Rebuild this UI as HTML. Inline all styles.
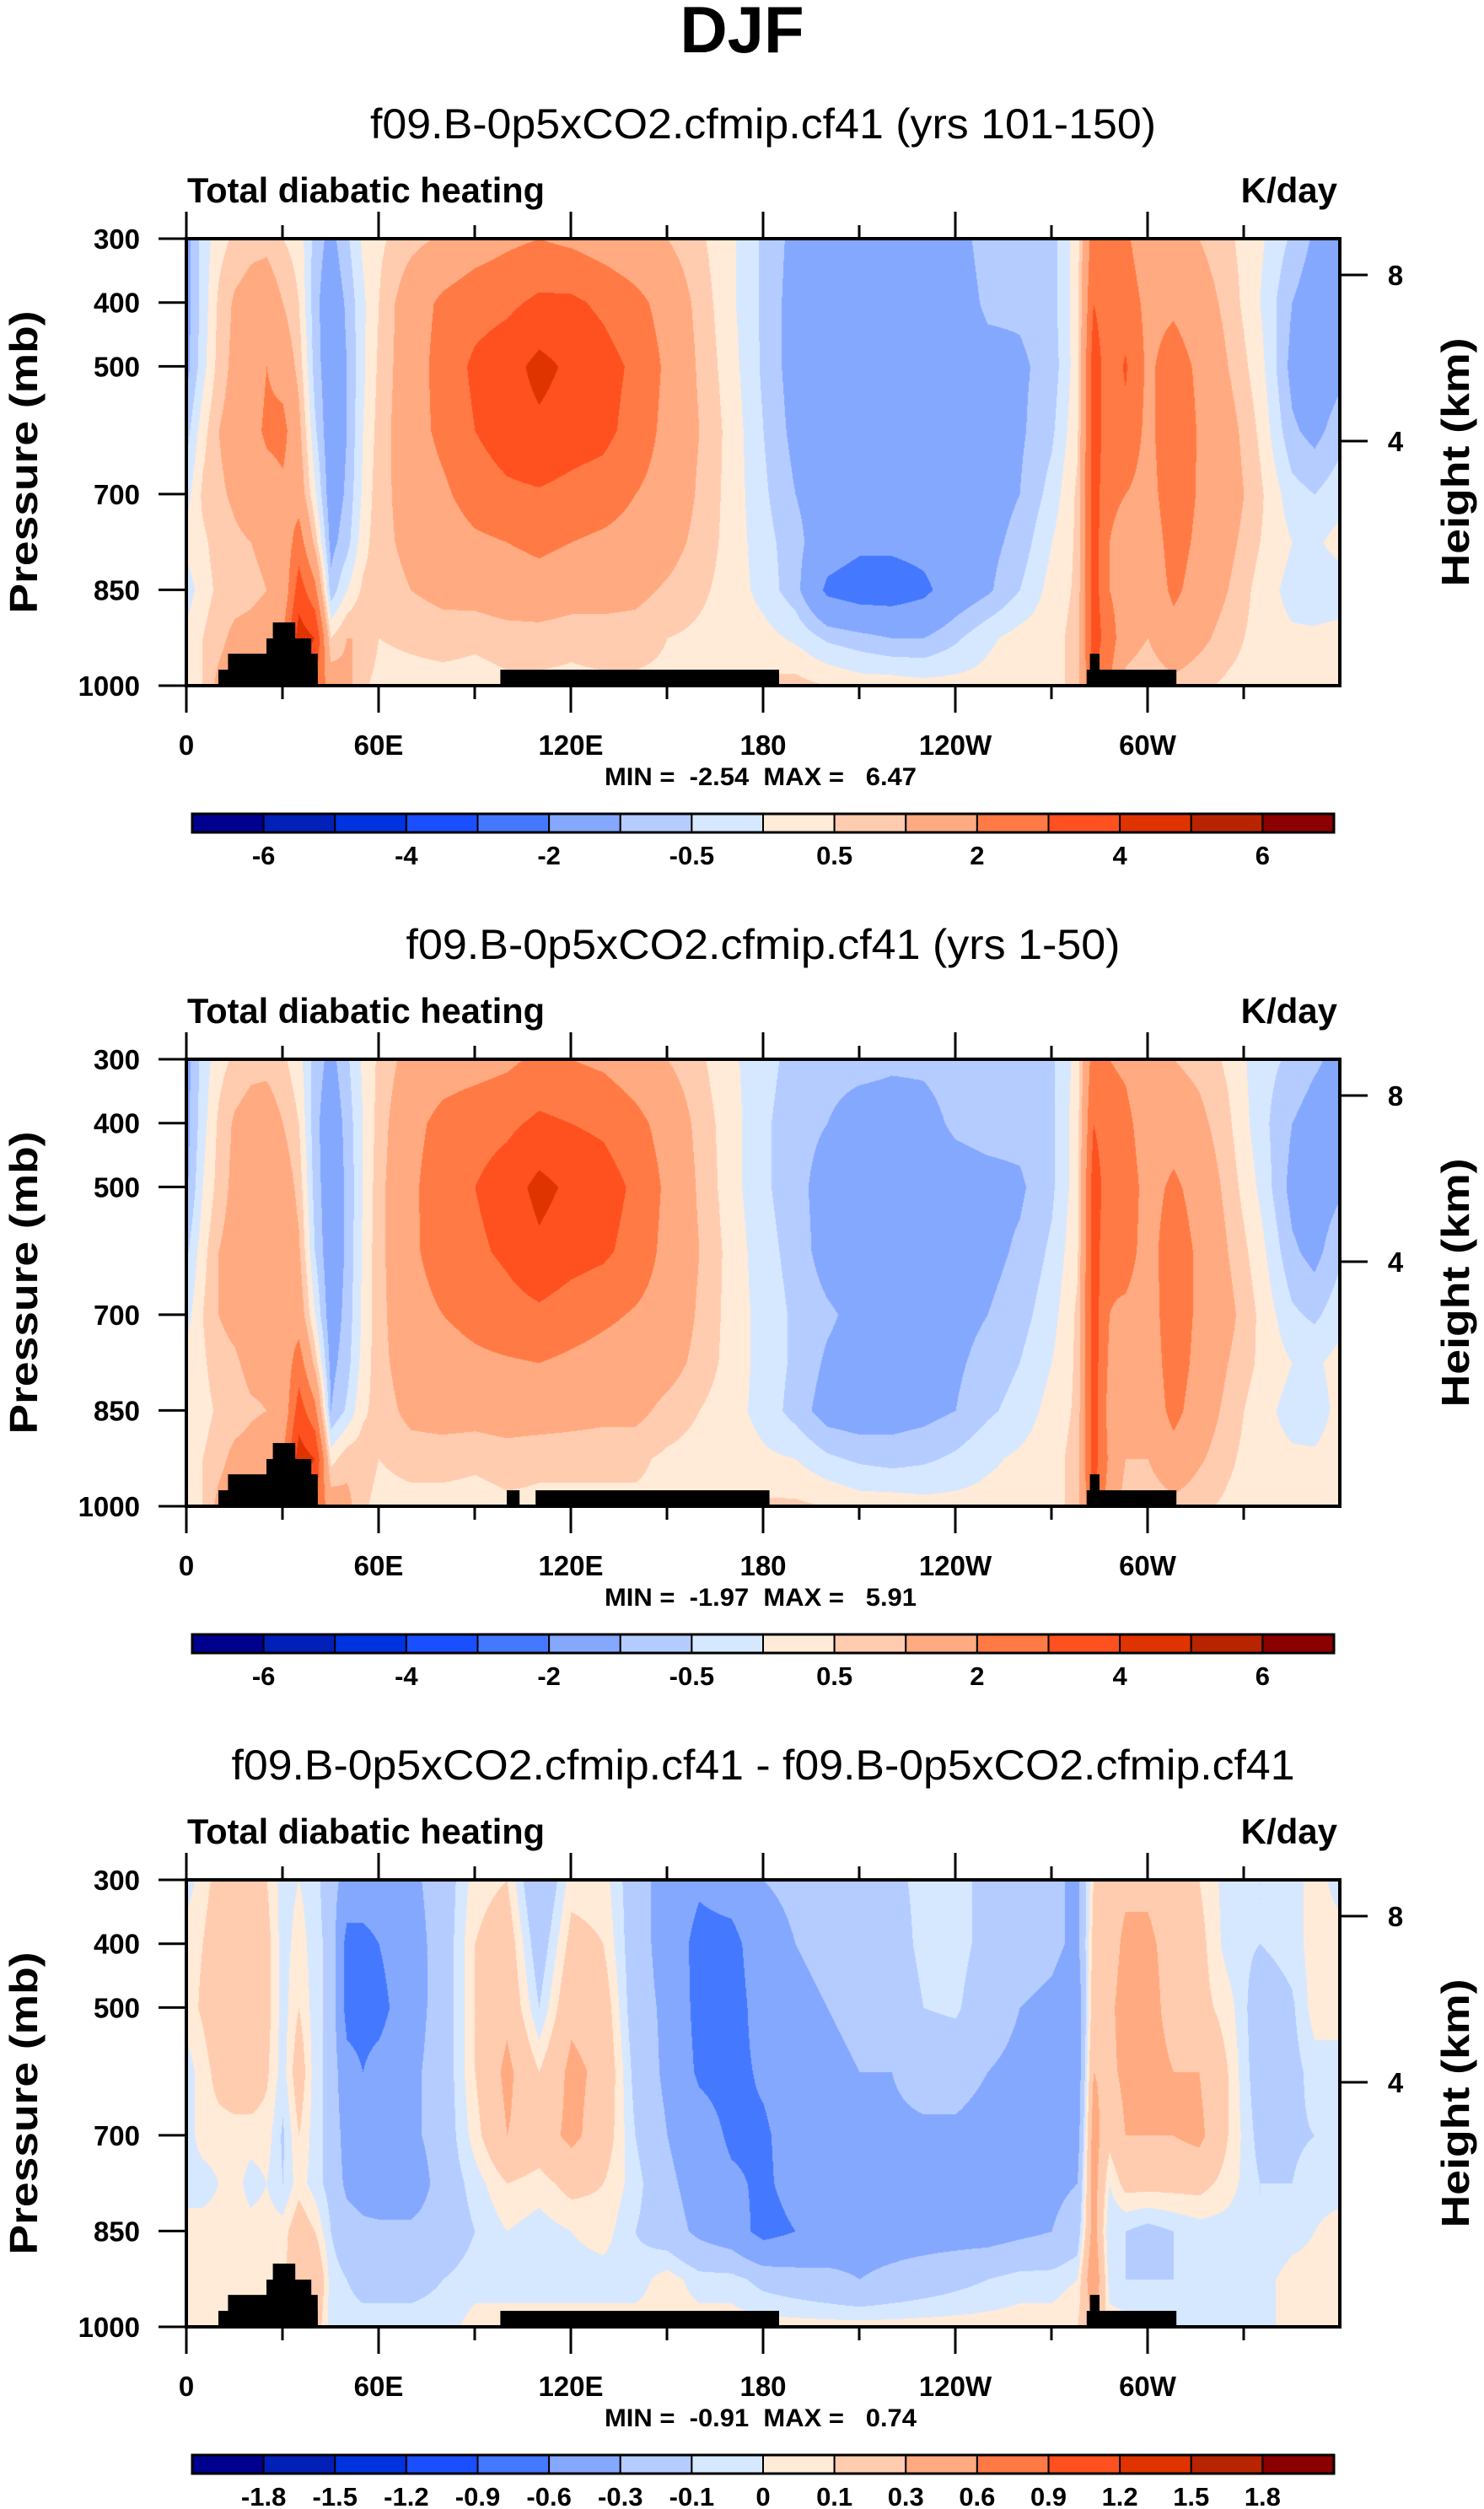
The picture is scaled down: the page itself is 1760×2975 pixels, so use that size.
<!DOCTYPE html>
<html><head><meta charset="utf-8">
<style>
html,body{margin:0;padding:0;background:#fff;}
body{width:1760px;height:2975px;position:relative;overflow:hidden;font-family:"Liberation Sans",Arial,sans-serif;}
canvas{position:absolute;}
#ov{position:absolute;left:0;top:0;}
</style></head>
<body>
<canvas id="c1" width="1368" height="530" style="left:221px;top:283px"></canvas>
<canvas id="c2" width="1368" height="530" style="left:221px;top:1256px"></canvas>
<canvas id="c3" width="1368" height="530" style="left:221px;top:2229px"></canvas>
<svg id="ov" width="1760" height="2975" xmlns="http://www.w3.org/2000/svg"></svg>
<script>
const lons=[0,5,10,15,20,25,30,35,40,45,50,55,60,70,80,90,100,110,120,130,140,150,160,170,180,190,200,210,220,230,240,250,260,270,278,283,288,293,300,308,316,325,335,345,352,360];
const pLevels=[300,400,500,600,700,775,850,925,1000];
const field1=[
[-1.2,-1.2,-1.2,-0.7,-0.2,0.2,-0.3,0.2,0.3],
[-0.3,-0.3,-0.2,0.3,0.6,0.4,0.3,0.5,0.5],
[0.3,0.6,0.7,1.0,0.9,0.7,0.6,0.8,1.2],
[0.6,1.1,1.2,1.3,1.1,0.9,0.7,1.2,1.5],
[0.8,1.3,1.4,1.6,1.3,1.0,0.8,1.3,1.5],
[0.8,1.5,2.0,2.2,1.5,1.2,1.0,1.5,1.5],
[0.5,1.0,1.6,2.3,1.8,1.3,1.2,2,2],
[0.3,0.5,0.8,1.2,1.5,2.5,3.5,4.5,4],
[-0.7,-0.8,-0.7,-0.4,0.1,0.8,2.3,4.0,3],
[-1.2,-1.5,-1.5,-1.5,-1.4,-1.2,-0.8,0.5,1.5],
[-0.6,-0.9,-1.0,-1.0,-0.9,-0.7,0.0,1.0,1.2],
[0.1,-0.1,-0.1,0.0,0.1,0.3,0.6,1.0,0.6],
[0.4,0.5,0.6,0.7,0.8,0.8,0.7,0.5,0.3],
[0.8,1.5,1.5,1.5,1.3,1.2,1.0,0.6,0.3],
[1.1,2.2,2.4,2.3,1.8,1.4,1.2,0.7,0.3],
[1.5,2.6,3.2,3.0,2.5,1.8,1.3,0.6,0.3],
[1.8,2.8,3.6,3.5,2.8,2.0,1.5,0.7,0.4],
[2.0,3.2,4.3,3.8,2.9,2.2,1.6,0.7,0.4],
[1.8,3.2,3.8,3.5,2.7,2.0,1.4,0.6,0.4],
[1.5,2.8,3.4,3.3,2.5,1.8,1.3,0.7,0.4],
[1.2,2.3,2.8,2.6,2.0,1.6,1.2,0.7,0.4],
[1.0,1.6,1.8,1.7,1.6,1.3,0.9,0.5,0.4],
[0.6,0.8,0.9,1.0,0.9,0.8,0.6,0.4,0.5],
[0.1,0.1,0.2,0.3,0.3,0.3,0.3,0.3,0.6],
[-0.6,-0.6,-0.6,-0.5,-0.4,-0.3,-0.2,0.2,0.6],
[-1.2,-1.3,-1.3,-1.2,-1.0,-0.8,-0.8,-0.1,0.7],
[-1.3,-1.4,-1.5,-1.5,-1.4,-1.5,-2.2,-0.6,0.5],
[-1.4,-1.5,-1.5,-1.5,-1.5,-1.8,-2.5,-0.8,0.3],
[-1.4,-1.5,-1.5,-1.5,-1.6,-1.8,-2.5,-1.0,0.3],
[-1.4,-1.5,-1.5,-1.5,-1.5,-1.7,-2.2,-1.0,0.2],
[-1.2,-1.3,-1.4,-1.5,-1.5,-1.5,-1.5,-0.6,0.2],
[-0.8,-0.9,-1.2,-1.3,-1.3,-1.2,-1.1,-0.1,0.2],
[-0.8,-0.9,-1.1,-1.1,-1.0,-0.8,-0.5,0.2,0.2],
[-0.7,-0.7,-0.8,-0.6,-0.3,0.0,0.2,0.3,0.3],
[0.3,0.3,0.3,0.4,0.6,0.6,0.6,0.7,0.7],
[2.5,3.0,3.5,3.5,3.5,3.5,3.5,3.5,3],
[2.0,2.5,2.5,2.5,2.2,2,2,2.5,2],
[2.2,2.6,3.1,2.8,2.0,1.6,1.5,1.3,0.8],
[1.3,1.7,1.8,1.7,1.6,1.4,1.3,1.0,0.6],
[1.2,1.8,2.5,2.8,2.6,2.4,2.2,1.6,0.8],
[1.0,1.4,1.8,1.9,1.9,1.8,1.6,1.2,0.6],
[0.6,0.8,1.0,1.3,1.4,1.2,1.0,0.7,0.4],
[0.1,0.0,0.2,0.4,0.6,0.5,0.3,0.3,0.3],
[-0.6,-1.0,-1.2,-0.9,-0.3,0.0,-0.2,0.1,0.2],
[-1.1,-1.4,-1.5,-1.2,-0.5,-0.1,-0.3,0.1,0.2],
[-1.2,-1.2,-1.2,-0.7,-0.2,0.2,-0.3,0.2,0.3]];
const field2=[
[-1.2,-1.2,-1.1,-0.6,-0.2,0.2,0.2,0.3,0.3],
[-0.3,-0.2,0.0,0.3,0.5,0.4,0.3,0.5,0.5],
[0.3,0.6,0.7,1.0,1.0,0.8,0.6,0.8,1.2],
[0.6,1.1,1.2,1.3,1.2,0.9,0.7,1.2,1.5],
[0.8,1.3,1.4,1.6,1.4,1.2,0.9,1.3,1.5],
[0.8,1.4,1.8,2.0,1.6,1.2,1.0,1.5,1.5],
[0.6,1.0,1.5,1.8,1.6,1.3,1.2,2,2],
[0.2,0.5,0.8,1.1,1.5,2.5,3.5,4.5,4],
[-0.7,-0.8,-0.7,-0.5,0.0,0.8,2.3,4.0,3],
[-1.2,-1.5,-1.5,-1.5,-1.4,-1.2,-1.0,0.3,1.5],
[-0.6,-0.8,-0.9,-0.9,-0.8,-0.7,-0.4,0.8,1.2],
[0.1,0.0,0.0,0.1,0.1,0.2,0.4,0.8,0.6],
[0.6,0.7,0.8,0.8,0.8,0.8,0.7,0.5,0.3],
[1.3,1.7,1.8,1.8,1.6,1.4,1.2,0.7,0.3],
[1.5,2.3,2.6,2.5,2.0,1.6,1.3,0.7,0.3],
[1.6,2.6,3.0,2.8,2.3,1.8,1.3,0.6,0.3],
[1.8,2.8,3.5,3.2,2.6,1.9,1.4,0.7,0.4],
[2.2,3.2,4.3,3.8,2.8,2.0,1.4,0.6,0.4],
[2.0,3.0,3.8,3.4,2.5,1.8,1.3,0.6,0.4],
[1.8,2.8,3.5,3.2,2.2,1.6,1.2,0.6,0.4],
[1.4,2.3,2.8,2.6,1.9,1.5,1.2,0.6,0.4],
[1.0,1.6,1.8,1.7,1.6,1.3,0.8,0.4,0.4],
[0.6,0.8,0.9,1.0,0.9,0.8,0.5,0.3,0.5],
[0.1,0.2,0.2,0.3,0.3,0.3,0.2,0.3,0.6],
[-0.3,-0.4,-0.4,-0.3,-0.2,-0.2,-0.2,0.1,0.6],
[-0.7,-0.8,-0.8,-0.7,-0.6,-0.6,-0.7,0.0,0.6],
[-0.8,-1.0,-1.3,-1.3,-0.9,-1.1,-1.3,-0.4,0.5],
[-0.8,-1.3,-1.4,-1.4,-1.2,-1.3,-1.4,-0.6,0.3],
[-0.9,-1.3,-1.4,-1.4,-1.3,-1.3,-1.3,-0.7,0.3],
[-0.9,-1.2,-1.4,-1.4,-1.3,-1.3,-1.2,-0.6,0.2],
[-0.8,-0.9,-1.3,-1.3,-1.2,-1.1,-1.0,-0.4,0.2],
[-0.7,-0.8,-1.2,-1.2,-1.0,-0.8,-0.6,-0.1,0.2],
[-0.7,-0.8,-1.1,-0.9,-0.7,-0.5,-0.3,0.1,0.2],
[-0.6,-0.6,-0.6,-0.4,-0.2,0.0,0.2,0.3,0.3],
[0.2,0.3,0.3,0.4,0.6,0.6,0.6,0.7,0.7],
[2.5,3.0,3.5,3.5,3.5,3.5,3.5,3.5,3],
[2.0,2.5,2.5,2.2,2.0,1.8,1.6,1.8,1.5],
[1.8,2.3,2.6,2.4,1.8,1.4,1.2,1.0,0.7],
[1.1,1.4,1.6,1.6,1.5,1.4,1.3,1.0,0.6],
[1.0,1.5,2.2,2.6,2.6,2.5,2.3,1.6,0.8],
[0.8,1.2,1.6,1.8,1.8,1.7,1.5,1.1,0.6],
[0.4,0.6,0.8,1.0,1.2,1.0,0.8,0.6,0.4],
[-0.3,-0.3,-0.1,0.2,0.4,0.4,0.2,0.2,0.3],
[-0.6,-1.0,-1.2,-0.9,-0.4,0.0,-0.2,0.1,0.2],
[-0.9,-1.3,-1.4,-1.2,-0.6,-0.1,-0.3,0.1,0.2],
[-1.2,-1.2,-1.1,-0.6,-0.2,0.2,0.2,0.3,0.3]];
const field3=[
[-0.05,0.05,0.05,-0.05,-0.05,-0.05,0.05,0.05,0.05],
[0.05,0.1,0.12,0.05,0.05,-0.05,0.05,0.05,0.05],
[0.15,0.2,0.2,0.15,0.05,0.0,0.05,0.05,0.05],
[0.15,0.25,0.25,0.2,0.05,0.05,0.05,0.05,0.05],
[0.15,0.25,0.25,0.2,0.05,-0.05,0.05,0.05,0.05],
[0.1,0.15,0.15,0.12,0.05,0.0,0.05,0.05,0.05],
[-0.05,-0.05,-0.05,-0.05,-0.12,-0.1,0.05,0.05,0.05],
[0.0,0.05,0.1,0.2,0.1,0.05,0.2,0.3,0.2],
[-0.05,-0.05,-0.05,-0.05,-0.05,-0.05,0.1,0.3,0.2],
[-0.2,-0.15,-0.15,-0.15,-0.15,-0.15,-0.1,-0.05,-0.05],
[-0.4,-0.7,-0.7,-0.5,-0.4,-0.35,-0.2,-0.1,-0.05],
[-0.4,-0.7,-0.7,-0.6,-0.45,-0.4,-0.25,-0.15,-0.05],
[-0.4,-0.6,-0.7,-0.5,-0.5,-0.45,-0.25,-0.15,-0.05],
[-0.35,-0.4,-0.4,-0.35,-0.35,-0.45,-0.25,-0.15,-0.05],
[-0.2,-0.2,-0.2,-0.2,-0.2,-0.2,-0.2,-0.1,-0.05],
[0.05,0.1,0.1,0.1,0.05,-0.05,-0.1,-0.05,0.05],
[0.1,0.2,0.25,0.35,0.3,0.1,0.0,-0.05,0.05],
[-0.3,-0.2,-0.1,0.1,0.2,0.05,-0.05,-0.05,0.05],
[0.05,0.15,0.25,0.35,0.35,0.15,0.0,-0.05,0.05],
[0.05,0.1,0.2,0.25,0.2,0.1,0.05,-0.05,0.05],
[-0.2,-0.2,-0.2,-0.15,-0.1,-0.05,-0.1,-0.05,0.05],
[-0.4,-0.4,-0.35,-0.35,-0.3,-0.25,-0.2,0.05,0.05],
[-0.55,-0.7,-0.7,-0.65,-0.45,-0.4,-0.35,-0.05,0.05],
[-0.45,-0.7,-0.75,-0.7,-0.65,-0.55,-0.45,-0.05,0.05],
[-0.3,-0.4,-0.45,-0.55,-0.65,-0.65,-0.7,-0.15,0.05],
[-0.25,-0.3,-0.35,-0.4,-0.45,-0.5,-0.6,-0.2,0.05],
[-0.2,-0.25,-0.3,-0.35,-0.4,-0.4,-0.45,-0.25,0.05],
[-0.2,-0.25,-0.25,-0.3,-0.35,-0.4,-0.4,-0.3,0.05],
[-0.15,-0.2,-0.25,-0.3,-0.35,-0.4,-0.4,-0.25,0.05],
[-0.05,-0.05,-0.1,-0.2,-0.35,-0.4,-0.4,-0.2,0.05],
[-0.05,-0.05,-0.08,-0.2,-0.35,-0.4,-0.4,-0.15,0.05],
[-0.15,-0.15,-0.2,-0.3,-0.4,-0.4,-0.4,-0.1,0.05],
[-0.2,-0.2,-0.3,-0.35,-0.4,-0.4,-0.35,-0.05,0.05],
[-0.25,-0.25,-0.35,-0.4,-0.4,-0.35,-0.3,-0.05,0.05],
[-0.35,-0.35,-0.45,-0.45,-0.4,-0.3,-0.2,0.0,0.1],
[0.1,0.15,0.2,0.3,0.4,0.4,0.4,0.5,0.3],
[0.2,0.2,0.25,0.25,0.15,0.0,-0.1,-0.05,0.05],
[0.25,0.35,0.4,0.35,0.3,0.15,-0.1,-0.1,0.05],
[0.25,0.35,0.4,0.4,0.3,0.15,-0.15,-0.1,-0.05],
[0.15,0.2,0.2,0.3,0.3,0.15,-0.1,-0.1,-0.05],
[0.1,0.15,0.15,0.3,0.35,0.15,-0.05,-0.05,-0.05],
[-0.05,-0.05,0.05,0.1,0.1,0.05,-0.05,-0.05,-0.05],
[-0.1,-0.1,-0.2,-0.2,-0.15,-0.1,-0.1,-0.05,-0.05],
[-0.05,-0.05,-0.12,-0.15,-0.12,-0.1,-0.05,0.05,0.05],
[0.05,0.05,0.05,-0.05,-0.1,-0.05,0.0,0.05,0.05],
[-0.05,0.05,0.05,-0.05,-0.05,-0.05,0.05,0.05,0.05]];
const levels1=[-6,-5,-4,-3,-2,-1,-0.5,0,0.5,1,2,3,4,5,6];
const levels3=[-1.8,-1.5,-1.2,-0.9,-0.6,-0.3,-0.1,0,0.1,0.3,0.6,0.9,1.2,1.5,1.8];
const cbLabels1=['-6','','-4','','-2','','-0.5','','0.5','','2','','4','','6'];
const cbLabels3=['-1.8','-1.5','-1.2','-0.9','-0.6','-0.3','-0.1','0','0.1','0.3','0.6','0.9','1.2','1.5','1.8'];
const palette=['#00008F','#0020B8','#0033E0','#1A4FFF','#4478FF','#85A8FF','#B4CCFF','#D6E8FF','#FFEBD7','#FFCCB0','#FFAA80','#FF7A44','#FF5020','#E03400','#B82400','#8B0000'];
const xTickLons=[0,60,120,180,240,300];
const xTickLabels=['0','60E','120E','180','120W','60W'];
const yTickP=[300,400,500,700,850,1000];
const yTickLabels=['300','400','500','700','850','1000'];
const hTickY=[326,523];
const hTickLabels=['8','4'];
const topo1=[[10,41,975],[13,41,950],[25,39,926],[27,34,901],[98,185,975],[281,309,975],[282,285,950]];
const topo2=[[10,41,975],[13,41,950],[25,39,926],[27,34,901],[100,104,975],[109,182,975],[281,309,975],[282,285,950]];
const subtitles=['f09.B-0p5xCO2.cfmip.cf41 (yrs 101-150)','f09.B-0p5xCO2.cfmip.cf41 (yrs 1-50)','f09.B-0p5xCO2.cfmip.cf41 - f09.B-0p5xCO2.cfmip.cf41'];
const subWidths=[932,847,1261];
const minmax=['MIN =  -2.54  MAX =   6.47','MIN =  -1.97  MAX =   5.91','MIN =  -0.91  MAX =   0.74'];

const PL=221,PW=1368,PH=530;
const tops=[283,1256,2229];
function xScale(lon){return PL+lon/360*PW;}
function yScale(p,top){return top+(p-300)/700*PH;}
function binIndex(v,levels){let i=0;while(i<levels.length&&v>=levels[i])i++;return i;}
function hexRGB(h){return [parseInt(h.substr(1,2),16),parseInt(h.substr(3,2),16),parseInt(h.substr(5,2),16)];}
const palRGB=palette.map(hexRGB);
function sample(field,lon,p){
  let i=0;while(i<lons.length-2&&lon>lons[i+1])i++;
  let j=0;while(j<pLevels.length-2&&p>pLevels[j+1])j++;
  const tx=(lon-lons[i])/(lons[i+1]-lons[i]);
  const ty=(p-pLevels[j])/(pLevels[j+1]-pLevels[j]);
  const a=field[i][j],b=field[i+1][j],c=field[i][j+1],d=field[i+1][j+1];
  return (a*(1-tx)+b*tx)*(1-ty)+(c*(1-tx)+d*tx)*ty;
}
function drawField(id,field,levels){
  const cv=document.getElementById(id);const ctx=cv.getContext('2d');
  const img=ctx.createImageData(PW,PH);
  for(let py=0;py<PH;py++){
    const p=300+py/PH*700;
    for(let px=0;px<PW;px++){
      const lon=px/PW*360;
      const v=sample(field,lon,p);
      const c=palRGB[binIndex(v,levels)];
      const k=(py*PW+px)*4;
      img.data[k]=c[0];img.data[k+1]=c[1];img.data[k+2]=c[2];img.data[k+3]=255;
    }
  }
  ctx.putImageData(img,0,0);
}
drawField('c1',field1,levels1);
drawField('c2',field2,levels1);
drawField('c3',field3,levels3);

const NS='http://www.w3.org/2000/svg';
const svg=document.getElementById('ov');
function mk(tag,attrs,txt){const e=document.createElementNS(NS,tag);for(const k in attrs)e.setAttribute(k,attrs[k]);if(txt!==undefined)e.textContent=txt;svg.appendChild(e);return e;}
const FB='"Liberation Sans",Arial,sans-serif';

let t=mk('text',{x:880,y:62,'text-anchor':'middle','font-family':FB,'font-weight':'bold','font-size':78},'DJF');



const topos=[topo1,topo2,topo1];
const cbLevels=[cbLabels1,cbLabels1,cbLabels3];
for(let k=0;k<3;k++){
  const top=tops[k];const off=top-283;
  let e=mk('text',{x:905,y:164+off,'text-anchor':'middle','font-family':FB,'font-size':50,textLength:subWidths[k],lengthAdjust:'spacingAndGlyphs'},subtitles[k]);
  
  
  e=mk('text',{x:222,y:240+off,'font-family':FB,'font-weight':'bold','font-size':42,textLength:424,lengthAdjust:'spacingAndGlyphs'},'Total diabatic heating');
  
  
  e=mk('text',{x:1586,y:240+off,'text-anchor':'end','font-family':FB,'font-weight':'bold','font-size':42},'K/day');
  
  
  topos[k].forEach(function(b){
    const r=mk('rect',{x:xScale(b[0]),y:yScale(b[2],top),width:xScale(b[1])-xScale(b[0]),height:yScale(1000,top)-yScale(b[2],top),fill:'#000'});
    
    
  });
  e=mk('rect',{x:PL,y:top,width:PW,height:PH,fill:'none',stroke:'#000','stroke-width':4});
  
  
  for(let lon=0;lon<360;lon+=30){
    const major=lon%60===0;const x=xScale(lon);
    e=mk('line',{x1:x,x2:x,y1:top,y2:top-(major?32:16),stroke:'#000','stroke-width':3});
    
    
    e=mk('line',{x1:x,x2:x,y1:top+PH,y2:top+PH+(major?32:16),stroke:'#000','stroke-width':3});
    
    
  }
  xTickLons.forEach(function(lon,i){
    const l=mk('text',{x:xScale(lon),y:top+PH+82,'text-anchor':'middle','font-family':FB,'font-weight':'bold','font-size':33},xTickLabels[i]);
    
    
  });
  yTickP.forEach(function(p,i){
    const y=yScale(p,top);
    let l=mk('line',{x1:188,x2:PL,y1:y,y2:y,stroke:'#000','stroke-width':3});
    
    
    l=mk('text',{x:166,y:y+12,'text-anchor':'end','font-family':FB,'font-weight':'bold','font-size':33},yTickLabels[i]);
    
    
  });
  hTickY.forEach(function(y0,i){
    const y=y0+off;
    let l=mk('line',{x1:PL+PW,x2:PL+PW+33,y1:y,y2:y,stroke:'#000','stroke-width':3});
    
    
    l=mk('text',{x:1655,y:y+12,'text-anchor':'middle','font-family':FB,'font-weight':'bold','font-size':33},hTickLabels[i]);
    
    
  });
  e=mk('text',{x:0,y:0,transform:'translate(44,'+(548+off)+') rotate(-90)','text-anchor':'middle','font-family':FB,'font-weight':'bold','font-size':46,textLength:359,lengthAdjust:'spacingAndGlyphs'},'Pressure (mb)');
  
  
  e=mk('text',{x:0,y:0,transform:'translate(1742,'+(548+off)+') rotate(-90)','text-anchor':'middle','font-family':FB,'font-weight':'bold','font-size':46,textLength:295,lengthAdjust:'spacingAndGlyphs'},'Height (km)');
  
  
  e=mk('text',{x:902,y:931+off,'text-anchor':'middle','font-family':FB,'font-weight':'bold','font-size':30,textLength:370,lengthAdjust:'spacingAndGlyphs',style:'white-space:pre'},minmax[k]);
  
  
  const cbx=228,cbw=1354,cby=965+off,cbh=22,bw=cbw/16;
  for(let i=0;i<16;i++){
    const r=mk('rect',{x:cbx+i*bw,y:cby,width:bw,height:cbh,fill:palette[i],stroke:'#000','stroke-width':2});
    
    
  }
  e=mk('rect',{x:cbx,y:cby,width:cbw,height:cbh,fill:'none',stroke:'#000','stroke-width':3});
  
  
  cbLevels[k].forEach(function(lab,i){
    if(!lab)return;
    const l=mk('text',{x:cbx+(i+1)*bw,y:cby+60,'text-anchor':'middle','font-family':FB,'font-weight':'bold','font-size':31},lab);
    
    
  });
}
</script>
</body></html>
